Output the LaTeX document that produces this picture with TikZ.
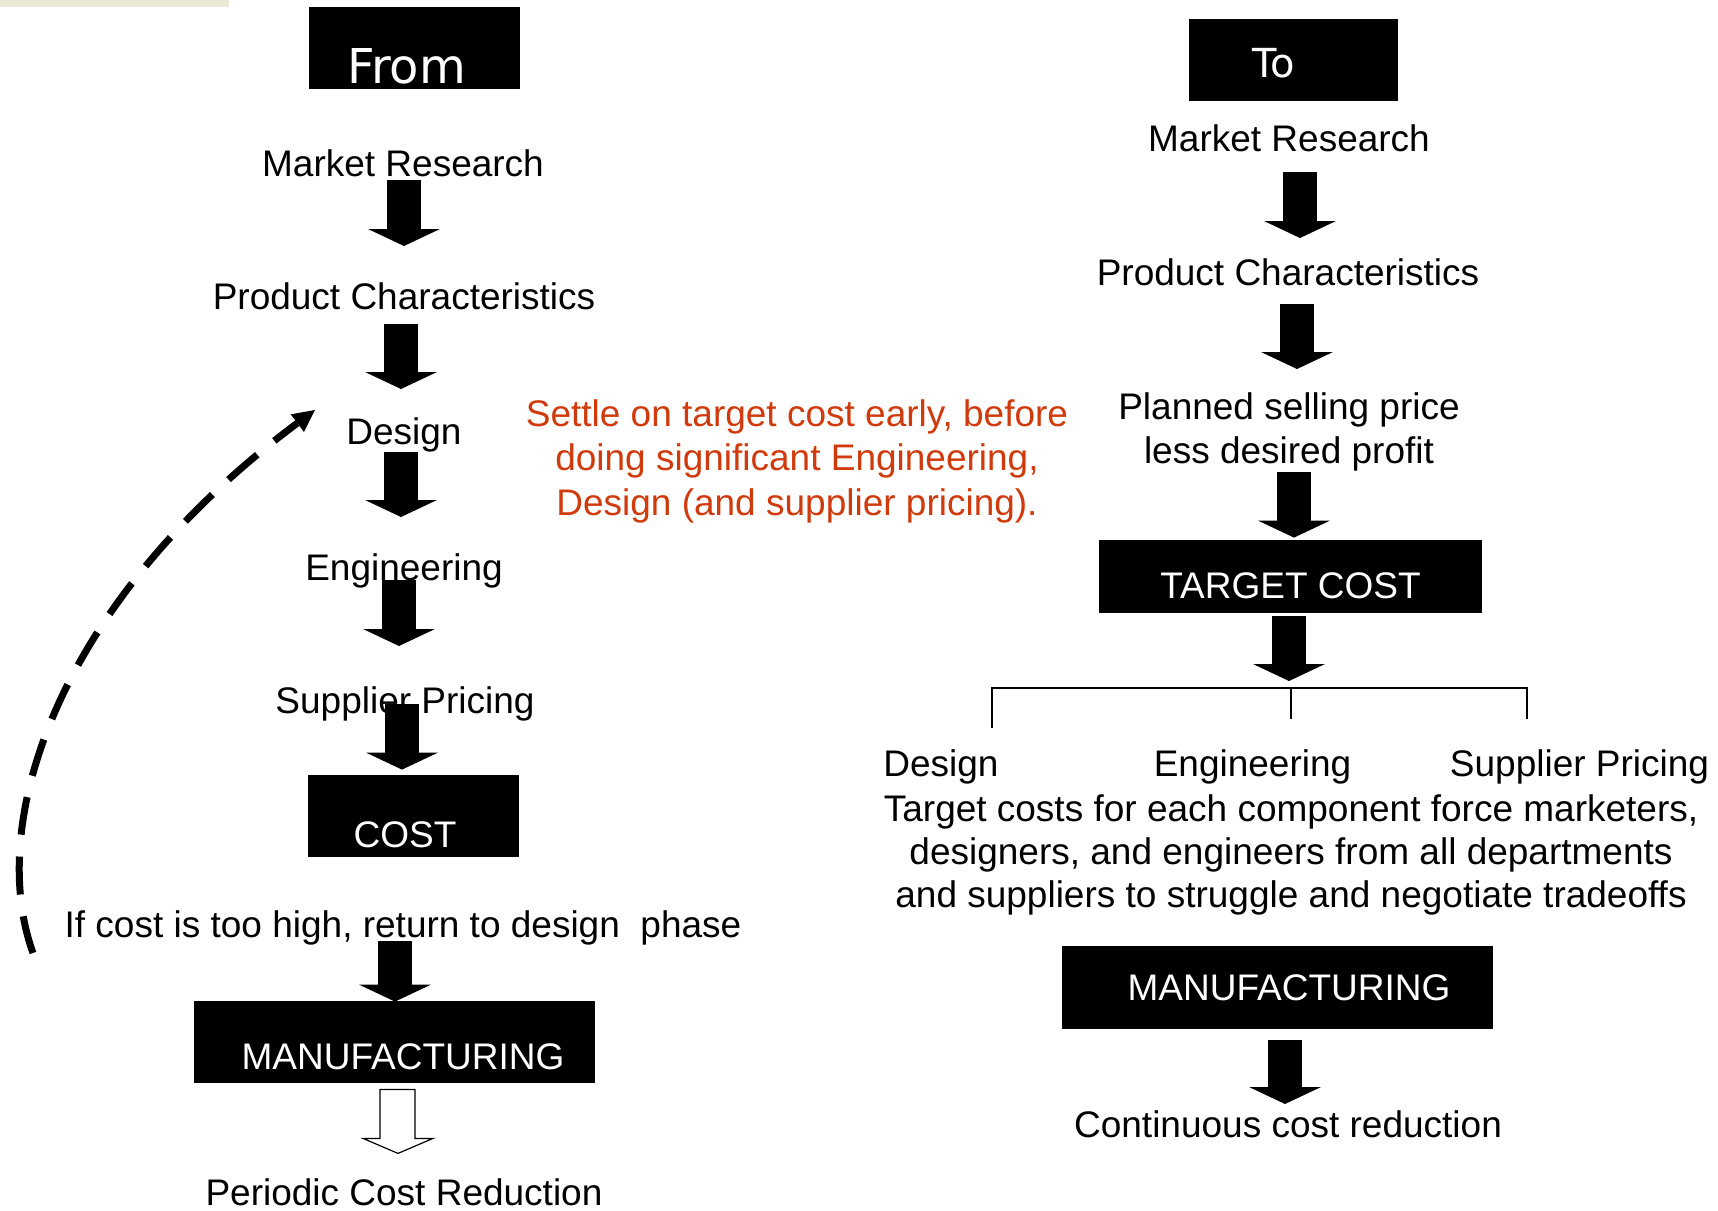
\documentclass[tikz,border=0pt]{standalone}
\usepackage{fontspec}
\setmainfont{Liberation Sans}
\newfontfamily\headfont{DejaVu Sans}
\usepackage{xcolor}
\usepackage{tikz}
\usetikzlibrary{arrows.meta}

\definecolor{xpbeige}{RGB}{236,233,216}
\definecolor{settlered}{RGB}{208,58,12}

\begin{document}
\begin{tikzpicture}[x=0.5pt, y=-0.5pt]
\tikzstyle{flowtext}=[inner sep=0pt, anchor=base, font=\fontsize{18.5pt}{22pt}\selectfont]
\tikzstyle{blackbox}=[fill=black, text=white, inner sep=0pt, font=\fontsize{18.5pt}{22pt}\selectfont]
\tikzstyle{blockarrow}=[line width=17pt, -{Triangle[width=36pt, length=8.5pt, line width=0pt]}]
\tikzstyle{hollowarrow}=[draw=black, fill=white, line width=0.6pt, line join=miter]
\tikzstyle{returnpath}=[line width=3.5pt, dash pattern=on 19pt off 11pt, -{Triangle[width=11pt, length=11pt, line width=0pt]}]
\tikzstyle{bracket}=[line width=1.35pt]

\useasboundingbox (0,0) rectangle (1718,1210);

% window strip in the corner
\fill[xpbeige] (0,0) rectangle (229,7);

% Left column: the old sequence
\node[blackbox, minimum width=105.5pt, text height=38pt, text depth=3pt, font=\headfont\fontsize{24pt}{28pt}\selectfont] (fromBox) at (414.5,48) {From\hspace*{8pt}};
\node[flowtext] (mrL) at (403,176) {Market Research};
\node[flowtext] (pcL) at (404,309) {Product Characteristics};
\node[flowtext] (dsL) at (404,444) {Design};
\node[flowtext] (enL) at (404,580) {Engineering};
\node[flowtext] (spL) at (405,713) {Supplier Pricing};
\node[blackbox, minimum width=105.5pt, text height=36pt, text depth=5pt] (costBox) at (413.5,816) {COST\hspace*{8.5pt}};
\node[flowtext] (ifL) at (403,937) {If cost is too high, return to design~ phase};
\node[blackbox, minimum width=200.5pt, text height=34pt, text depth=7pt] (manuL) at (394.5,1042) {\hspace*{8.5pt}MANUFACTURING};
\node[flowtext] (pcrL) at (404,1205) {Periodic Cost Reduction};

\draw[blockarrow] ([shift={(1,4)}]mrL.base) -- ([shift={(0,-63)}]pcL.base);
\draw[blockarrow] ([shift={(-3,15)}]pcL.base) -- ([shift={(-3,-55)}]dsL.base);
\draw[blockarrow] ([shift={(-3,8)}]dsL.base) -- ([shift={(-3,-63)}]enL.base);
\draw[blockarrow] ([shift={(-5,0)}]enL.base) -- ([shift={(-6,-67)}]spL.base);
\draw[blockarrow] ([shift={(-3,-9)}]spL.base) -- ([shift={(-11.5,-5)}]costBox.north);
\draw[blockarrow] ([shift={(-8,4)}]ifL.base) -- ([shift={(0.5,1)}]manuL.north);

% hollow arrow under manufacturing
\coordinate (oa) at ([shift={(2.5,6)}]manuL.south);
\draw[hollowarrow] (oa) ++(-17,0) -- ++(0,49) -- ++(-17,0) -- ++(35,15) -- ++(35,-15) -- ++(-18,0) -- ++(0,-49) -- cycle;

% back to design
\coordinate (retStart) at (33,953);
\coordinate (retEnd) at (315,410);
\draw[returnpath] (retStart) .. controls (-15,820) and (60,600) .. (retEnd);

% Note in the middle (base = last line)
\node[flowtext, align=center, text=settlered, font=\fontsize{18.5pt}{22.25pt}\selectfont] (settleNote) at (797,515) {Settle on target cost early, before\\doing significant Engineering,\\Design (and supplier pricing).};

% Right column: target costing
\node[blackbox, minimum width=104.5pt, text height=29pt, text depth=12pt, font=\headfont\fontsize{20pt}{24pt}\selectfont] (toBox) at (1293.5,60) {To\hspace*{19.5pt}};
\node[flowtext] (mrR) at (1289,151) {Market Research};
\node[flowtext] (pcR) at (1288,285) {Product Characteristics};
\node[flowtext, align=center] (priceR) at (1289,463) {Planned selling price\\less desired profit};
\node[blackbox, minimum width=191.5pt, text height=29pt, text depth=7.5pt] (targetBox) at (1290.5,576.5) {TARGET COST};
\coordinate (fork) at (1291,688);
\node[flowtext] (dsR) at (941,776) {Design};
\node[flowtext] (enR) at (1252.5,776) {Engineering};
\node[flowtext] (spR) at (1579.5,776) {Supplier Pricing};
\node[flowtext, align=center, font=\fontsize{18.5pt}{21.5pt}\selectfont] (forceR) at (1291,907) {Target costs for each component force marketers,\\designers, and engineers from all departments\\and suppliers to struggle and negotiate tradeoffs};
\node[blackbox, minimum width=215.5pt, text height=27pt, text depth=14.5pt] (manuR) at (1277.5,987.5) {\hspace*{11.5pt}MANUFACTURING};
\node[flowtext] (ccrR) at (1288,1137) {Continuous cost reduction};

\draw[blockarrow] ([shift={(11,21)}]mrR.base) -- ([shift={(12,-47)}]pcR.base);
\draw[blockarrow] ([shift={(9,19)}]pcR.base) -- ([shift={(8,-94)}]priceR.base);
\draw[blockarrow] ([shift={(5,9)}]priceR.base) -- ([shift={(3.5,-2)}]targetBox.north);
\draw[blockarrow] ([shift={(-1.5,3)}]targetBox.south) -- ([shift={(-2,-7)}]fork);
\draw[blockarrow] ([shift={(7.5,11)}]manuR.south) -- ([shift={(-3,-33)}]ccrR.base);

% split into the three departments
\draw[bracket] ([shift={(-299,40)}]fork) -- ([shift={(-299,0)}]fork) -- ([shift={(236,0)}]fork) -- ([shift={(236,31)}]fork);
\draw[bracket] (fork) -- ([shift={(0,31)}]fork);
\end{tikzpicture}
\end{document}
